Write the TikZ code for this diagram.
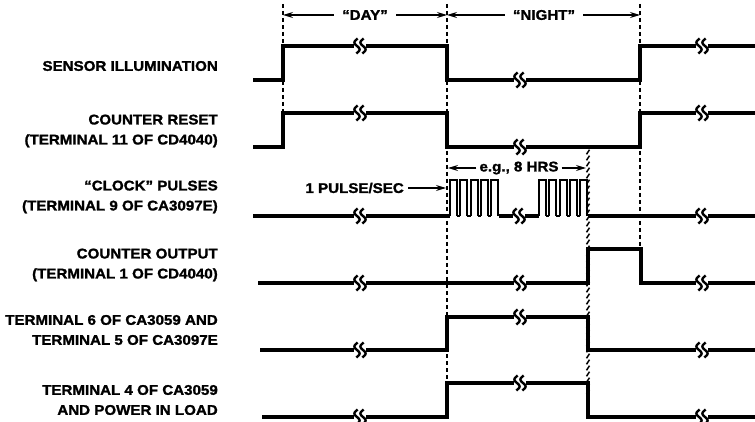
\documentclass[tikz,border=0pt]{standalone}
\usepackage{fontspec}
\setmainfont{Liberation Sans}[FakeStretch=1.08, BoldFeatures={FakeBold=1.5}]
\usetikzlibrary{arrows.meta}
\tikzset{
  sig/.style={line width=3.2pt, line join=miter, line cap=butt},
  pulse/.style={line width=2.2pt, line join=miter},
  guide/.style={line width=1.1pt, dash pattern=on 4pt off 3pt},
  dimarrow/.style={line width=1.2pt, -{Stealth[length=10pt,width=6pt]}},
  lbl/.style={anchor=east, align=right, font=\fontsize{14}{20}\selectfont\bfseries, inner sep=0pt},
  ttl/.style={font=\fontsize{14}{16}\selectfont\bfseries, inner sep=0pt},
  brk/.pic={
    \fill[white] (-6,-8) rectangle (6,8);
    \draw[line width=2.4pt] plot[domain=-7.5:7.5, smooth, samples=17] ({-3+2.6*sin(\x*26)}, \x);
    \draw[line width=2.4pt] plot[domain=-7.5:7.5, smooth, samples=17] ({3+2.6*sin(\x*26)}, \x);
  }
}
\begin{document}
\begin{tikzpicture}[x=1pt,y=-1pt]
\useasboundingbox (0,0) rectangle (755,422);

% guide lines
\draw[guide] (283,4) -- (283,113);
\draw[guide] (447,4) -- (447,383);
\draw[guide] (640,4) -- (640,249);
\foreach \yy in {152,158,...,392}
  \draw[line width=1.5pt] (586.5,\yy+2.3) -- (589.5,\yy-2.3);

% top dimension arrows
\node[ttl] (day) at (365,15) {“DAY”};
\node[ttl] (night) at (544,15) {“NIGHT”};
\coordinate (d0) at (283,15);
\coordinate (d1) at (447,15);
\coordinate (d2) at (640,15);
\draw[dimarrow] ([xshift=-8pt]day.west) -- (d0);
\draw[dimarrow] ([xshift=8pt]day.east) -- (d1);
\draw[dimarrow] ([xshift=-8pt]night.west) -- (d1);
\draw[dimarrow] ([xshift=8pt]night.east) -- (d2);

% e.g. 8 HRS
\node[ttl] (hrs) at (519,168) {e.g., 8 HRS};
\coordinate (h0) at (448,168);
\coordinate (h1) at (586,168);
\draw[dimarrow] ([xshift=-3pt]hrs.west) -- (h0);
\draw[dimarrow] ([xshift=3pt]hrs.east) -- (h1);

% 1 PULSE/SEC
\node[ttl, anchor=east] (ps) at (404,188) {1 PULSE/SEC};
\coordinate (p0) at (446,188);
\draw[dimarrow] ([xshift=4pt]ps.east) -- (p0);

% labels
\node[lbl] (l1) at (218,66) {SENSOR ILLUMINATION};
\node[lbl] (l2) at (218,131) {COUNTER RESET\\(TERMINAL 11 OF CD4040)};
\node[lbl] (l3) at (218,197) {“CLOCK” PULSES\\(TERMINAL 9 OF CA3097E)};
\node[lbl] (l4) at (218,265) {COUNTER OUTPUT\\(TERMINAL 1 OF CD4040)};
\node[lbl] (l5) at (218,330) {TERMINAL 6 OF CA3059 AND\\TERMINAL 5 OF CA3097E};
\node[lbl] (l6) at (218,400) {TERMINAL 4 OF CA3059\\AND POWER IN LOAD};

% signals
\draw[sig] (253,80) -- (283,80) -- (283,46) -- (447,46) -- (447,80) -- (640,80) -- (640,46) -- (755,46);
\pic at (360,46) {brk}; \pic at (520,80) {brk}; \pic at (702,46) {brk};

\draw[sig] (253,147) -- (283,147) -- (283,113) -- (447,113) -- (447,147) -- (640,147) -- (640,113) -- (755,113);
\pic at (360,113) {brk}; \pic at (520,147) {brk}; \pic at (702,113) {brk};

% clock
\draw[sig] (253,216) -- (450,216);
\draw[sig] (499,216) -- (539,216);
\draw[sig] (588,216) -- (755,216);
\foreach \s in {450,539} {
  \foreach \i in {0,...,4} {
    \pgfmathsetmacro{\xa}{\s+\i*10.3}
    \pgfmathsetmacro{\xb}{\xa+7}
    \draw[pulse] (\xa,216) -- (\xa,180) -- (\xb,180) -- (\xb,216);
  }
  \foreach \i in {0,...,3} {
    \pgfmathsetmacro{\xb}{\s+\i*10.3+7}
    \pgfmathsetmacro{\xc}{\s+\i*10.3+10.3}
    \draw[pulse] (\xb,216) -- (\xc,216);
  }
}
\pic at (360,216) {brk}; \pic at (519,216) {brk}; \pic at (702,216) {brk};

\draw[sig] (258,283) -- (588,283) -- (588,249) -- (641,249) -- (641,283) -- (755,283);
\pic at (360,283) {brk}; \pic at (520,283) {brk}; \pic at (702,283) {brk};

\draw[sig] (260,350) -- (447,350) -- (447,317) -- (588,317) -- (588,350) -- (755,350);
\pic at (360,350) {brk}; \pic at (520,317) {brk}; \pic at (702,350) {brk};

\draw[sig] (262,417) -- (447,417) -- (447,383) -- (588,383) -- (588,417) -- (755,417);
\pic at (360,417) {brk}; \pic at (520,383) {brk}; \pic at (702,417) {brk};
\end{tikzpicture}
\end{document}
